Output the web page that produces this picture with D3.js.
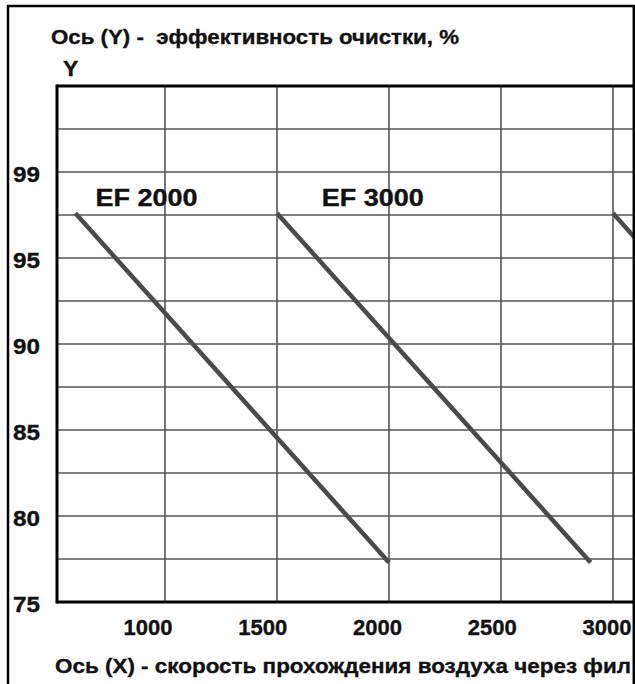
<!DOCTYPE html>
<html><head><meta charset="utf-8">
<script src="https://cdn.jsdelivr.net/npm/d3@7"></script>
<style>
body{margin:0;background:#fff;overflow:hidden}
text{font-family:"Liberation Sans",Arial,sans-serif;font-weight:bold;fill:#111;stroke:#111;stroke-width:0.35px;white-space:pre}
</style>
</head><body><svg id="c" width="635" height="684"></svg>
<script>
// ---- data ----
const xTicks = [1000, 1500, 2000, 2500, 3000];
const xTickLabels = ["1000", "1500", "2000", "2500", "3000"];
const yTicks = [75, 80, 85, 90, 95, 100];
const yTickLabels = ["75", "80", "85", "90", "95", "99"];
const yGridValues = [77.5, 80, 82.5, 85, 87.5, 90, 92.5, 95, 97.5, 100, 102.5];
const seriesNames = ["EF 2000", "EF 3000", "EF 4000"];
const seriesX = [[600, 2000], [1500, 2900], [3000, 4400]];
const seriesY = [[97.6, 77.3], [97.6, 77.3], [97.6, 77.3]];
const labelX = [690, 1700, null];
const labelY = [98, 98, null];
const yTitle = "Ось (Y) -  эффективность очистки, %";
const yLetter = "Y";
const xTitle = "Ось (X) - скорость прохождения воздуха через фил";

// ---- layout ----
const svg = d3.select("#c");
const W = 635, H = 684;
const plotLeft = 57, plotTop = 86, plotBottom = 602, plotRight = 633;
const x = d3.scaleLinear().domain([1000, 3000]).range([165, 613]);
const xLab = d3.scaleLinear().domain([1000, 3000]).range([148, 607]);
const y = d3.scaleLinear().domain([75, 100]).range([602, 172]);

svg.append("clipPath").attr("id", "pc")
  .append("rect").attr("x", plotLeft).attr("y", plotTop).attr("width", plotRight - plotLeft).attr("height", plotBottom - plotTop);

function txt(g, px, py, s, size, k, anchor, len) {
  const t = g.append("text")
    .attr("transform", `translate(${px},${py}) scale(${k},1)`)
    .attr("text-anchor", anchor || "start")
    .style("font-size", size + "px")
    .text(s);
  if (len) t.attr("textLength", len / k).attr("lengthAdjust", "spacingAndGlyphs");
  return t;
}

// grid
const grid = svg.append("g").attr("clip-path", "url(#pc)");
grid.selectAll("line.gx").data(xTicks).join("line")
  .attr("x1", d => x(d)).attr("x2", d => x(d))
  .attr("y1", plotTop).attr("y2", plotBottom)
  .attr("stroke", "#555").attr("stroke-width", 1.6);
grid.selectAll("line.gy").data(yGridValues).join("line")
  .attr("x1", plotLeft).attr("x2", plotRight)
  .attr("y1", d => y(d)).attr("y2", d => y(d))
  .attr("stroke", "#555").attr("stroke-width", 1.6);

// series
const line = d3.line().x(d => x(d[0])).y(d => y(d[1]));
seriesNames.forEach((name, i) => {
  const pts = seriesX[i].map((v, j) => [v, seriesY[i][j]]);
  grid.append("path").attr("d", line(pts))
    .attr("fill", "none").attr("stroke", "#4a4a4a").attr("stroke-width", 4.5);
});

// axes / frame of plot
svg.append("line").attr("x1", plotLeft).attr("x2", plotLeft).attr("y1", plotTop - 1.5).attr("y2", plotBottom + 1.5).attr("stroke", "#000").attr("stroke-width", 3);
svg.append("line").attr("x1", plotLeft).attr("x2", plotRight).attr("y1", plotTop).attr("y2", plotTop).attr("stroke", "#000").attr("stroke-width", 3);
svg.append("line").attr("x1", plotLeft).attr("x2", plotRight).attr("y1", plotBottom).attr("y2", plotBottom).attr("stroke", "#000").attr("stroke-width", 3);

// outer frame
svg.append("line").attr("x1", 8).attr("x2", 8).attr("y1", 5).attr("y2", H).attr("stroke", "#000").attr("stroke-width", 2.5);
svg.append("line").attr("x1", 7).attr("x2", W).attr("y1", 6).attr("y2", 6).attr("stroke", "#000").attr("stroke-width", 2.5);
svg.append("line").attr("x1", 633.8).attr("x2", 633.8).attr("y1", 5).attr("y2", H).attr("stroke", "#000").attr("stroke-width", 2.5);

// series labels
const tg = svg.append("g");
seriesNames.forEach((name, i) => {
  if (labelX[i] == null) return;
  txt(tg, x(labelX[i]), y(labelY[i]), name, 23, 1.15, "start", 102);
});

// y tick labels
yTicks.forEach((v, i) => {
  txt(tg, 13, y(v) + 2 + 8, yTickLabels[i], 22, 1.05, "start", 27);
});
// x tick labels
xTicks.forEach((v, i) => {
  txt(tg, xLab(v), 635, xTickLabels[i], 22, 1.05, "middle", 49);
});

// titles
txt(tg, 51, 44, yTitle, 21, 1.05, "start", 408);
txt(tg, 63, 76, yLetter, 22, 1.05, "start");
txt(tg, 55, 673, xTitle, 21, 1.03, "start", 576);
</script>
</body></html>
